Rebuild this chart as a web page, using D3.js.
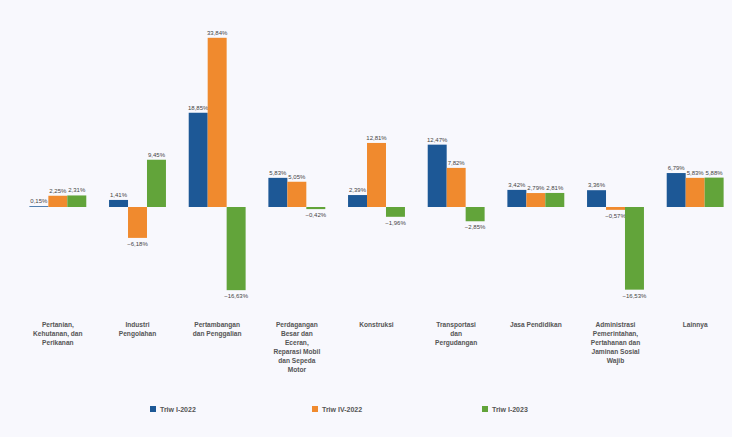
<!DOCTYPE html>
<meta charset="utf-8">
<html>
<head>
<style>
body { margin: 0; background: #f8f8fd; }
svg { display: block; }
.lbl { font: 6px "Liberation Sans", sans-serif; fill: #444; }
.cat { font: bold 6.6px "Liberation Sans", sans-serif; fill: #555; }
.leg { font: bold 7px "Liberation Sans", sans-serif; fill: #555; }
</style>
</head>
<body>
<script src="https://cdn.jsdelivr.net/npm/d3@7"></script>
<script>

var categories = [
  "Pertanian,|Kehutanan, dan|Perikanan",
  "Industri|Pengolahan",
  "Pertambangan|dan Penggalian",
  "Perdagangan|Besar dan|Eceran,|Reparasi Mobil|dan Sepeda|Motor",
  "Konstruksi",
  "Transportasi|dan|Pergudangan",
  "Jasa Pendidikan",
  "Administrasi|Pemerintahan,|Pertahanan dan|Jaminan Sosial|Wajib",
  "Lainnya"
];
var seriesNames = ["Triw I-2022", "Triw IV-2022", "Triw I-2023"];
var triwI2022  = [0.15, 1.41, 18.85, 5.83, 2.39, 12.47, 3.42, 3.36, 6.79];
var triwIV2022 = [2.25, -6.18, 33.84, 5.05, 12.81, 7.82, 2.79, -0.57, 5.83];
var triwI2023  = [2.31, 9.45, -16.63, -0.42, -1.96, -2.85, 2.81, -16.53, 5.88];
var colors = ["#1d5896", "#f08a2e", "#62a43a"];

var width = 732, height = 437;
var svg = d3.select("body").append("svg")
  .attr("width", width).attr("height", height);

var series = [triwI2022, triwIV2022, triwI2023];

var x = d3.scaleBand().domain(d3.range(categories.length)).range([18, 735]);
var xs = d3.scaleBand().domain(d3.range(3)).range([0, x.bandwidth()]).paddingOuter(0.6).paddingInner(0);

var y = d3.scaleLinear().domain([-20, 35]).range([307, 38]);
// keep zero at ~207
y.domain([-(307 - 207) / 5, (207 - 38) / 5 + 0.0]);

var fmt = function(v) { return d3.format(".2f")(v).replace(".", ",") + "%"; };

var groups = svg.selectAll(".grp")
  .data(categories)
  .enter().append("g")
  .attr("class", "grp")
  .attr("transform", function(d, i) { return "translate(" + x(i) + ",0)"; });

groups.each(function(c, i) {
  var g = d3.select(this);
  series.forEach(function(s, k) {
    var v = s[i];
    g.append("rect")
      .attr("x", xs(k))
      .attr("width", xs.bandwidth())
      .attr("y", v >= 0 ? y(v) : y(0))
      .attr("height", Math.abs(y(v) - y(0)))
      .attr("fill", colors[k]);
    g.append("text")
      .attr("class", "lbl")
      .attr("x", xs(k) + xs.bandwidth() / 2)
      .attr("y", v >= 0 ? y(v) - 3 : y(v) + 8)
      .attr("text-anchor", "middle")
      .text(fmt(v));
  });
});

// category labels
groups.append("text")
  .attr("class", "cat")
  .attr("text-anchor", "middle")
  .attr("x", x.bandwidth() / 2)
  .attr("y", 327)
  .selectAll("tspan")
  .data(function(d) { return d.split("|"); })
  .enter().append("tspan")
  .attr("x", x.bandwidth() / 2)
  .attr("dy", function(d, j) { return j === 0 ? 0 : 9; })
  .text(function(d) { return d; });

// legend
var legX = [150, 312, 482];
var leg = svg.selectAll(".legitem")
  .data(seriesNames)
  .enter().append("g")
  .attr("transform", function(d, i) { return "translate(" + legX[i] + ",411)"; });
leg.append("rect").attr("x", 0).attr("y", -5).attr("width", 6).attr("height", 6)
  .attr("fill", function(d, i) { return colors[i]; });
leg.append("text").attr("class", "leg").attr("x", 10).attr("y", 1)
  .text(function(d) { return d; });

</script>
</body>
</html>
